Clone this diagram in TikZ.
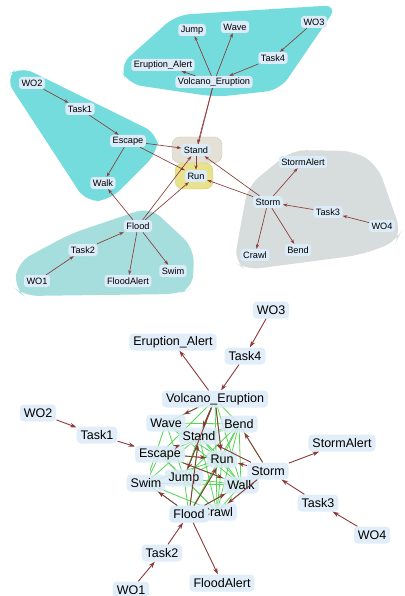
\documentclass[tikz,border=0pt]{standalone}
\usepackage{fontspec}
\setmainfont{Liberation Sans}
\usetikzlibrary{arrows.meta}
\definecolor{nodeblue}{HTML}{DCEBF8}
\definecolor{arrowred}{HTML}{8B3A3A}
\definecolor{blobcyan}{HTML}{74DCDC}
\definecolor{blobflood}{HTML}{A6DEDE}
\definecolor{blobstorm}{HTML}{D7DCDC}
\definecolor{standfill}{HTML}{E4E0D6}
\definecolor{standline}{HTML}{D0CBBE}
\definecolor{runfill}{HTML}{E8E28C}
\definecolor{runline}{HTML}{D6CE72}
\definecolor{linkgreen}{HTML}{55D455}
\tikzset{
  tnode/.style={fill=nodeblue, rounded corners=3pt, font=\fontsize{9.2}{10}\selectfont,
    inner xsep=2.5pt, inner ysep=1.5pt, minimum height=12pt},
  bnode/.style={fill=nodeblue, fill opacity=0.85, text opacity=1, rounded corners=4pt,
    font=\fontsize{12.5}{13}\selectfont, inner xsep=4pt, inner ysep=2pt, minimum height=17pt},
  tarr/.style={draw=arrowred, line width=0.65pt, -{Stealth[length=4.5pt,width=3.2pt]}},
  tline/.style={draw=arrowred, line width=0.65pt},
  barr/.style={draw=arrowred, line width=0.9pt, -{Stealth[length=6.5pt,width=4.5pt]}},
  gline/.style={draw=linkgreen, line width=0.8pt},
  blob/.style={rounded corners=14pt},
}
\begin{document}
\begin{tikzpicture}[x=1pt,y=-1pt]
\useasboundingbox (0,0) rectangle (404,596);

% ---------- clustered view: group shapes ----------
\fill[blobcyan, blob] (119,66) -- (176,15) -- (338,5) -- (280,90) -- (216,97) -- (128,84) -- cycle;
\fill[blobcyan, blob] (5,78) -- (20,66) -- (158,134) -- (158,152) -- (110,200) -- (86,202) -- cycle;
\fill[blobflood, blob] (14,288) -- (18,262) -- (70,234) -- (150,207) -- (194,248) -- (193,288) -- (178,294) -- (24,296) -- cycle;
\fill[blobstorm, blob] (234,262) -- (248,186) -- (292,150) -- (355,151) -- (378,166) -- (401,232) -- (396,242) -- (360,255) -- (246,270) -- cycle;
\filldraw[fill=standfill, draw=standline, rounded corners=8pt] (172,137) rectangle (222,163);
\filldraw[fill=runfill, draw=runline, rounded corners=8pt] (175,163) rectangle (213,189);

% ---------- clustered view: nodes ----------
\node[tnode] (aJump) at (192,30) {Jump};
\node[tnode] (aWave) at (235,27) {Wave};
\node[tnode] (aWO3) at (314,22) {WO3};
\node[tnode] (aTask4) at (273,58) {Task4};
\node[tnode] (aEA) at (163,65) {Eruption\_Alert};
\node[tnode] (aVE) at (214,82) {Volcano\_Eruption};
\node[tnode] (aWO2) at (32,83) {WO2};
\node[tnode] (aTask1) at (80,109) {Task1};
\node[tnode] (aEscape) at (128,141) {Escape};
\node[tnode] (aStand) at (196,150) {Stand};
\node[tnode] (aRun) at (196,176) {Run};
\node[tnode] (aWalk) at (103,183) {Walk};
\node[tnode] (aStormAlert) at (303,162) {StormAlert};
\node[tnode] (aStorm) at (268,202) {Storm};
\node[tnode] (aTask3) at (328,212) {Task3};
\node[tnode] (aWO4) at (382,226) {WO4};
\node[tnode] (aCrawl) at (255,255) {Crawl};
\node[tnode] (aBend) at (298,250) {Bend};
\node[tnode] (aFlood) at (138,226) {Flood};
\node[tnode] (aTask2) at (83,250) {Task2};
\node[tnode] (aSwim) at (173,271) {Swim};
\node[tnode] (aWO1) at (37,281) {WO1};
\node[tnode] (aFloodAlert) at (128,281) {FloodAlert};

% ---------- clustered view: connectors ----------
\foreach \s/\t in {WO3/Task4, Task4/VE, VE/EA, VE/Jump, VE/Wave, WO2/Task1,
    Task1/Escape, Escape/Stand, Escape/Walk, Flood/Walk, Flood/FloodAlert,
    Flood/Swim, Task2/Flood, WO1/Task2, Storm/StormAlert, Storm/Crawl,
    Storm/Bend, Task3/Storm, WO4/Task3, Storm/Stand, Storm/Run, Flood/Stand,
    Flood/Run, Escape/Run, VE/Stand, Stand/Run}
  \draw[tarr] (a\s) -- (a\t);
% second volcano link, routed behind the Stand label down to Run
\draw[tline] (aVE) -- ([xshift=2.5pt]aStand.north);

% ---------- spread view: node centres for the link mesh ----------
\coordinate (bVEc) at (215,399);
\coordinate (bWavec) at (166,423);
\coordinate (bBendc) at (239,424);
\coordinate (bStandc) at (199,436);
\coordinate (bEscapec) at (160,454);
\coordinate (bRunc) at (222,459);
\coordinate (bStormc) at (268,471);
\coordinate (bSwimc) at (146,483);
\coordinate (bJumpc) at (184,478);
\coordinate (bWalkc) at (241,485);
\coordinate (bFloodc) at (189,514);
\coordinate (bCrawlc) at (217,512);
\begin{scope}
\clip (150,404) rectangle (262,512);
\foreach \s/\t in {VE/Wave, VE/Stand, VE/Bend, VE/Run, VE/Jump, VE/Walk, VE/Escape,
    VE/Crawl, Wave/Bend, Wave/Stand, Wave/Swim, Wave/Jump, Wave/Run, Wave/Walk,
    Bend/Stand, Bend/Run, Bend/Walk, Bend/Crawl, Bend/Jump, Bend/Escape,
    Bend/Storm, Bend/Flood, Stand/Run, Stand/Jump, Stand/Swim, Stand/Walk,
    Stand/Crawl, Stand/Flood, Escape/Run, Escape/Jump, Escape/Walk, Escape/Crawl,
    Escape/Swim, Run/Jump, Run/Walk, Run/Crawl, Run/Flood, Run/Swim, Jump/Walk,
    Jump/Crawl, Swim/Walk, Swim/Crawl, Walk/Flood, Walk/Crawl, Jump/Flood,
    Swim/Flood, Storm/Walk, Storm/Crawl}
  \draw[gline] (b\s c) -- (b\t c);
\end{scope}

% ---------- spread view: nodes ----------
\node[bnode] (bWO3) at (271,310) {WO3};
\node[bnode] (bEA) at (173,342) {Eruption\_Alert};
\node[bnode] (bTask4) at (245,356) {Task4};
\node[bnode] (bVE) at (215,399) {Volcano\_Eruption};
\node[bnode] (bWO2) at (38,413) {WO2};
\node[bnode] (bWave) at (166,423) {Wave};
\node[bnode] (bBend) at (239,424) {Bend};
\node[bnode] (bTask1) at (97,435) {Task1};
\node[bnode] (bStand) at (199,436) {Stand};
\node[bnode] (bStormAlert) at (342,443) {StormAlert};
\node[bnode] (bEscape) at (160,454) {Escape};
\node[bnode] (bRun) at (222,459) {Run};
\node[bnode] (bStorm) at (268,471) {Storm};
\node[bnode] (bSwim) at (146,483) {Swim};
\node[bnode] (bJump) at (184,478) {Jump};
\node[bnode] (bWalk) at (241,485) {Walk};
\node[bnode] (bTask3) at (318,503) {Task3};
\node[bnode] (bCrawl) at (217,512) {Crawl};
\node[bnode, fill opacity=1] (bFlood) at (189,514) {Flood};
\node[bnode] (bWO4) at (372,535) {WO4};
\node[bnode] (bTask2) at (162,553) {Task2};
\node[bnode] (bFloodAlert) at (222,583) {FloodAlert};
\node[bnode] (bWO1) at (131,590) {WO1};

% ---------- spread view: connectors ----------
\foreach \s/\t in {WO3/Task4, Task4/VE, VE/EA, VE/Jump, VE/Wave, VE/Stand, VE/Run,
    WO2/Task1, Task1/Escape, Escape/Stand, Escape/Run, Escape/Walk, Flood/Walk,
    Flood/Stand, Flood/Run, Flood/FloodAlert, Flood/Swim, Task2/Flood, WO1/Task2,
    Storm/Stand, Storm/Run, Storm/StormAlert, Storm/Crawl, Storm/Bend,
    Task3/Storm, WO4/Task3}
  \draw[barr] (b\s) -- (b\t);
\end{tikzpicture}
\end{document}
